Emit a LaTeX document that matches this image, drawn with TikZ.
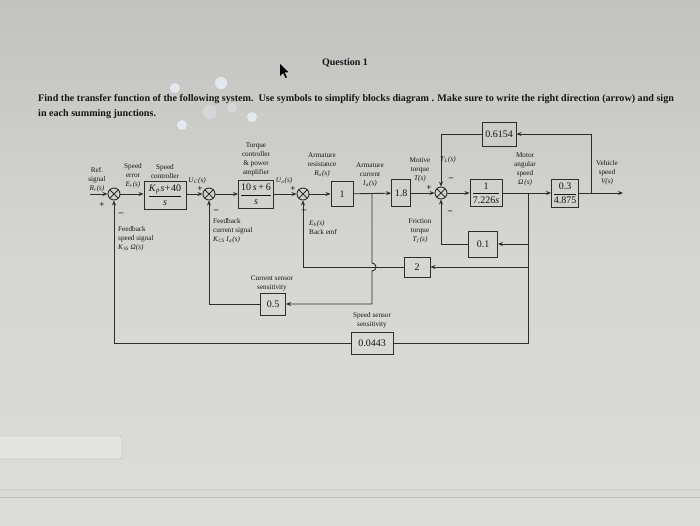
\documentclass[tikz,border=0pt]{standalone}
\usepackage{amsmath}
\usepackage{fontspec}
\setmainfont{Liberation Serif}
\usetikzlibrary{arrows.meta}
\definecolor{bgtop}{RGB}{194,194,192}
\definecolor{bgmid}{RGB}{214,214,210}
\definecolor{bgbot}{RGB}{220,220,217}
\definecolor{ln}{RGB}{45,45,45}
\definecolor{tx}{RGB}{22,22,22}
\definecolor{glare}{RGB}{236,244,252}
\newcommand{\vsig}[2]{\textit{#1}\textsubscript{\textit{#2}}\kern0.3pt\textit{(s)}}
\newcommand{\tfr}[2]{$\dfrac{\text{#1}}{\text{#2}}$}
\tikzset{
  blk/.style={draw=ln, line width=0.9pt, inner sep=0pt, text=tx, font=\fontsize{10}{11}\selectfont},
  sumj/.style={draw=ln, line width=0.9pt, circle, minimum size=12pt, inner sep=0pt,
    path picture={\draw[ln, line width=0.9pt] (path picture bounding box.north west) -- (path picture bounding box.south east)
      (path picture bounding box.north east) -- (path picture bounding box.south west);}},
  lbl/.style={text=tx, font=\fontsize{7.2}{9}\selectfont, align=center, inner sep=0pt},
  lbll/.style={text=tx, font=\fontsize{7.2}{9}\selectfont, align=left, inner sep=0pt},
  sgn/.style={text=tx, font=\fontsize{9}{9}\selectfont\bfseries, inner sep=0pt},
  wire/.style={draw=ln, line width=0.9pt},
  ar/.style={wire, -{Stealth[length=5pt,width=4pt]}}
}
\begin{document}
\begin{tikzpicture}[x=1pt,y=-1pt]
\useasboundingbox (0,0) rectangle (700,525);
\shade[top color=bgtop, bottom color=bgbot, middle color=bgmid] (0,0) rectangle (700,525);
% photo details
\fill[glare, opacity=0.75] (175,88) circle (5) (221,83) circle (6) (182,125) circle (5) (252,117) circle (5);
\fill[glare, opacity=0.3] (210,112) circle (7) (232,108) circle (5);
\fill[black] (280,64) -- (280,76) -- (283,73) -- (285.5,78) -- (287,77.3) -- (284.6,72.4) -- (288.5,72.2) -- cycle;
\draw[gray!60, rounded corners=2pt, fill=white!20!bgbot] (-2,436) rectangle (122,459);
\draw[gray!55, line width=0.8pt] (0,489) -- (700,489);
\draw[gray!50, line width=0.8pt] (0,497) -- (700,497);
\fill[gray!30, opacity=0.5] (0,489.4) rectangle (700,496.6);

% question text
\node[text=tx, font=\fontsize{10}{12}\selectfont\bfseries, inner sep=0pt] (q) at (345,63) {Question 1};
\node[text=tx, font=\fontsize{10.1}{12}\selectfont\bfseries, anchor=west, inner sep=0pt] (q1) at (38,99) {Find the transfer function of the following system.\ \ Use symbols to simplify blocks diagram . Make sure to write the right direction (arrow) and sign};
\node[text=tx, font=\fontsize{10.1}{12}\selectfont\bfseries, anchor=west, inner sep=0pt] (q2) at (38,114) {in each summing junctions.};

% summing junctions
\node[sumj] (s1) at (114,194) {};
\node[sumj] (s2) at (209,194) {};
\node[sumj] (s3) at (303,194) {};
\node[sumj] (s4) at (441,193) {};

% blocks
\node[blk, minimum width=42, minimum height=28] (b1) at (165,195) {\tfr{\textit{K}\textsubscript{\textit{p}}\kern0.5pt\textit{s}\kern0.5pt+\kern0.5pt40}{\textit{s}}};
\node[blk, minimum width=35, minimum height=28] (b2) at (256,194) {\tfr{10\,\textit{s}\,+\,6}{\textit{s}}};
\node[blk, minimum width=22, minimum height=25] (b3) at (342,194) {1};
\node[blk, minimum width=19, minimum height=27] (b4) at (401,193) {1.8};
\node[blk, minimum width=32, minimum height=27] (b5) at (486,193) {\tfr{1}{7.226\textit{s}}};
\node[blk, minimum width=27, minimum height=28] (b6) at (565,193) {\tfr{0.3}{4.875}};
\node[blk, minimum width=34, minimum height=24] (b7) at (499,134) {0.6154};
\node[blk, minimum width=29, minimum height=26] (b8) at (483,244) {0.1};
\node[blk, minimum width=26, minimum height=20] (b9) at (417,267) {2};
\node[blk, minimum width=25, minimum height=22] (b10) at (273,304) {0.5};
\node[blk, minimum width=42, minimum height=22] (b11) at (372,343) {0.0443};

% coordinates
\coordinate (in) at (90,194);
\coordinate (out) at (623,193);
\coordinate (tI) at (372,194);
\coordinate (tW) at (528,193);
\coordinate (tV) at (591,193);
\coordinate (bot) at (528,343);

% forward path
\draw[ar] (in) -- (s1);
\draw[ar] (s1) -- (s1 -| b1.west);
\draw[ar] (s2 -| b1.east) -- (s2);
\draw[ar] (s2) -- (b2);
\draw[ar] (b2) -- (s3);
\draw[ar] (s3) -- (b3);
\draw[ar] (b3) -- (b4);
\draw[ar] (b4) -- (s4);
\draw[ar] (s4) -- (b5);
\draw[ar] (b5) -- (b6);
\draw[ar] (b6) -- (out);

% feedback paths
\draw[ar] (tV) |- (b7.east);
\draw[ar] (b7.west) -| (s4.north);
\draw[wire] (tW) -- (bot) -- (b11.east);
\draw[ar] (tW |- b8.east) -- (b8.east);
\draw[ar] (tW |- b9.east) -- (b9.east);
\draw[ar] (b8.west) -| (s4.south);
\draw[ar] (b9.west) -| (s3.south);
\draw[ar] (b11.west) -| (s1.south);
\draw[ar] (tI) -- (372,263) arc(-90:90:4) |- (b10.east);
\draw[ar] (b10.west) -| (s2.south);

% labels
\node[lbl] (lr) at (97,180) {Ref.\\signal\\\vsig{R}{r}};
\node[sgn] (p1) at (102,205) {+};
\node[sgn] (m1) at (121,214) {--};
\node[lbl] (le) at (133,176) {Speed\\error\\\vsig{E}{r}};
\node[lbl] (lsc) at (165,172) {Speed\\controller};
\node[lbl] (luc) at (197,181) {\vsig{U}{C}};
\node[sgn] (p2) at (200,189) {+};
\node[sgn] (m2) at (216,211) {--};
\node[lbll, anchor=north west] (lfc) at (213,218) {Feedback\\current signal\\\textit{K}\textsubscript{\textit{CS}} \vsig{I}{a}};
\node[lbll, anchor=north west] (lfs) at (118,226) {Feedback\\speed signal\\\textit{K}\textsubscript{\textit{SS}} \textit{Ω(s)}};
\node[lbl] (ltc) at (256,159) {Torque\\controller\\\&~power\\amplifier};
\node[lbl] (lua) at (284,181) {\vsig{U}{a}};
\node[sgn] (p3) at (293,189) {+};
\node[sgn] (m3) at (304,211) {--};
\node[lbll, anchor=north west] (leb) at (309,220) {\vsig{E}{b}\\Back emf};
\node[lbl] (lra) at (322,165) {Armature\\resistance\\\vsig{R}{a}};
\node[lbl] (lia) at (370,175) {Armature\\current\\\vsig{I}{a}};
\node[lbl] (lmt) at (420,170) {Motive\\torque\\\textit{T(s)}};
\node[sgn] (p4) at (429,188) {+};
\node[lbl] (ltl) at (448,160) {\vsig{T}{L}};
\node[sgn] (m4a) at (451,179) {--};
\node[sgn] (m4b) at (450,212) {--};
\node[lbl] (lft) at (420,231) {Friction\\torque\\\vsig{T}{f}};
\node[lbl] (lma) at (525,169) {Motor\\angular\\speed\\\textit{Ω\,(s)}};
\node[lbl] (lvs) at (607,173) {Vehicle\\speed\\\textit{V(s)}};
\node[lbl] (lcs) at (272,283) {Current sensor\\sensitivity};
\node[lbl] (lss) at (372,320) {Speed sensor\\sensitivity};
\end{tikzpicture}
\end{document}
